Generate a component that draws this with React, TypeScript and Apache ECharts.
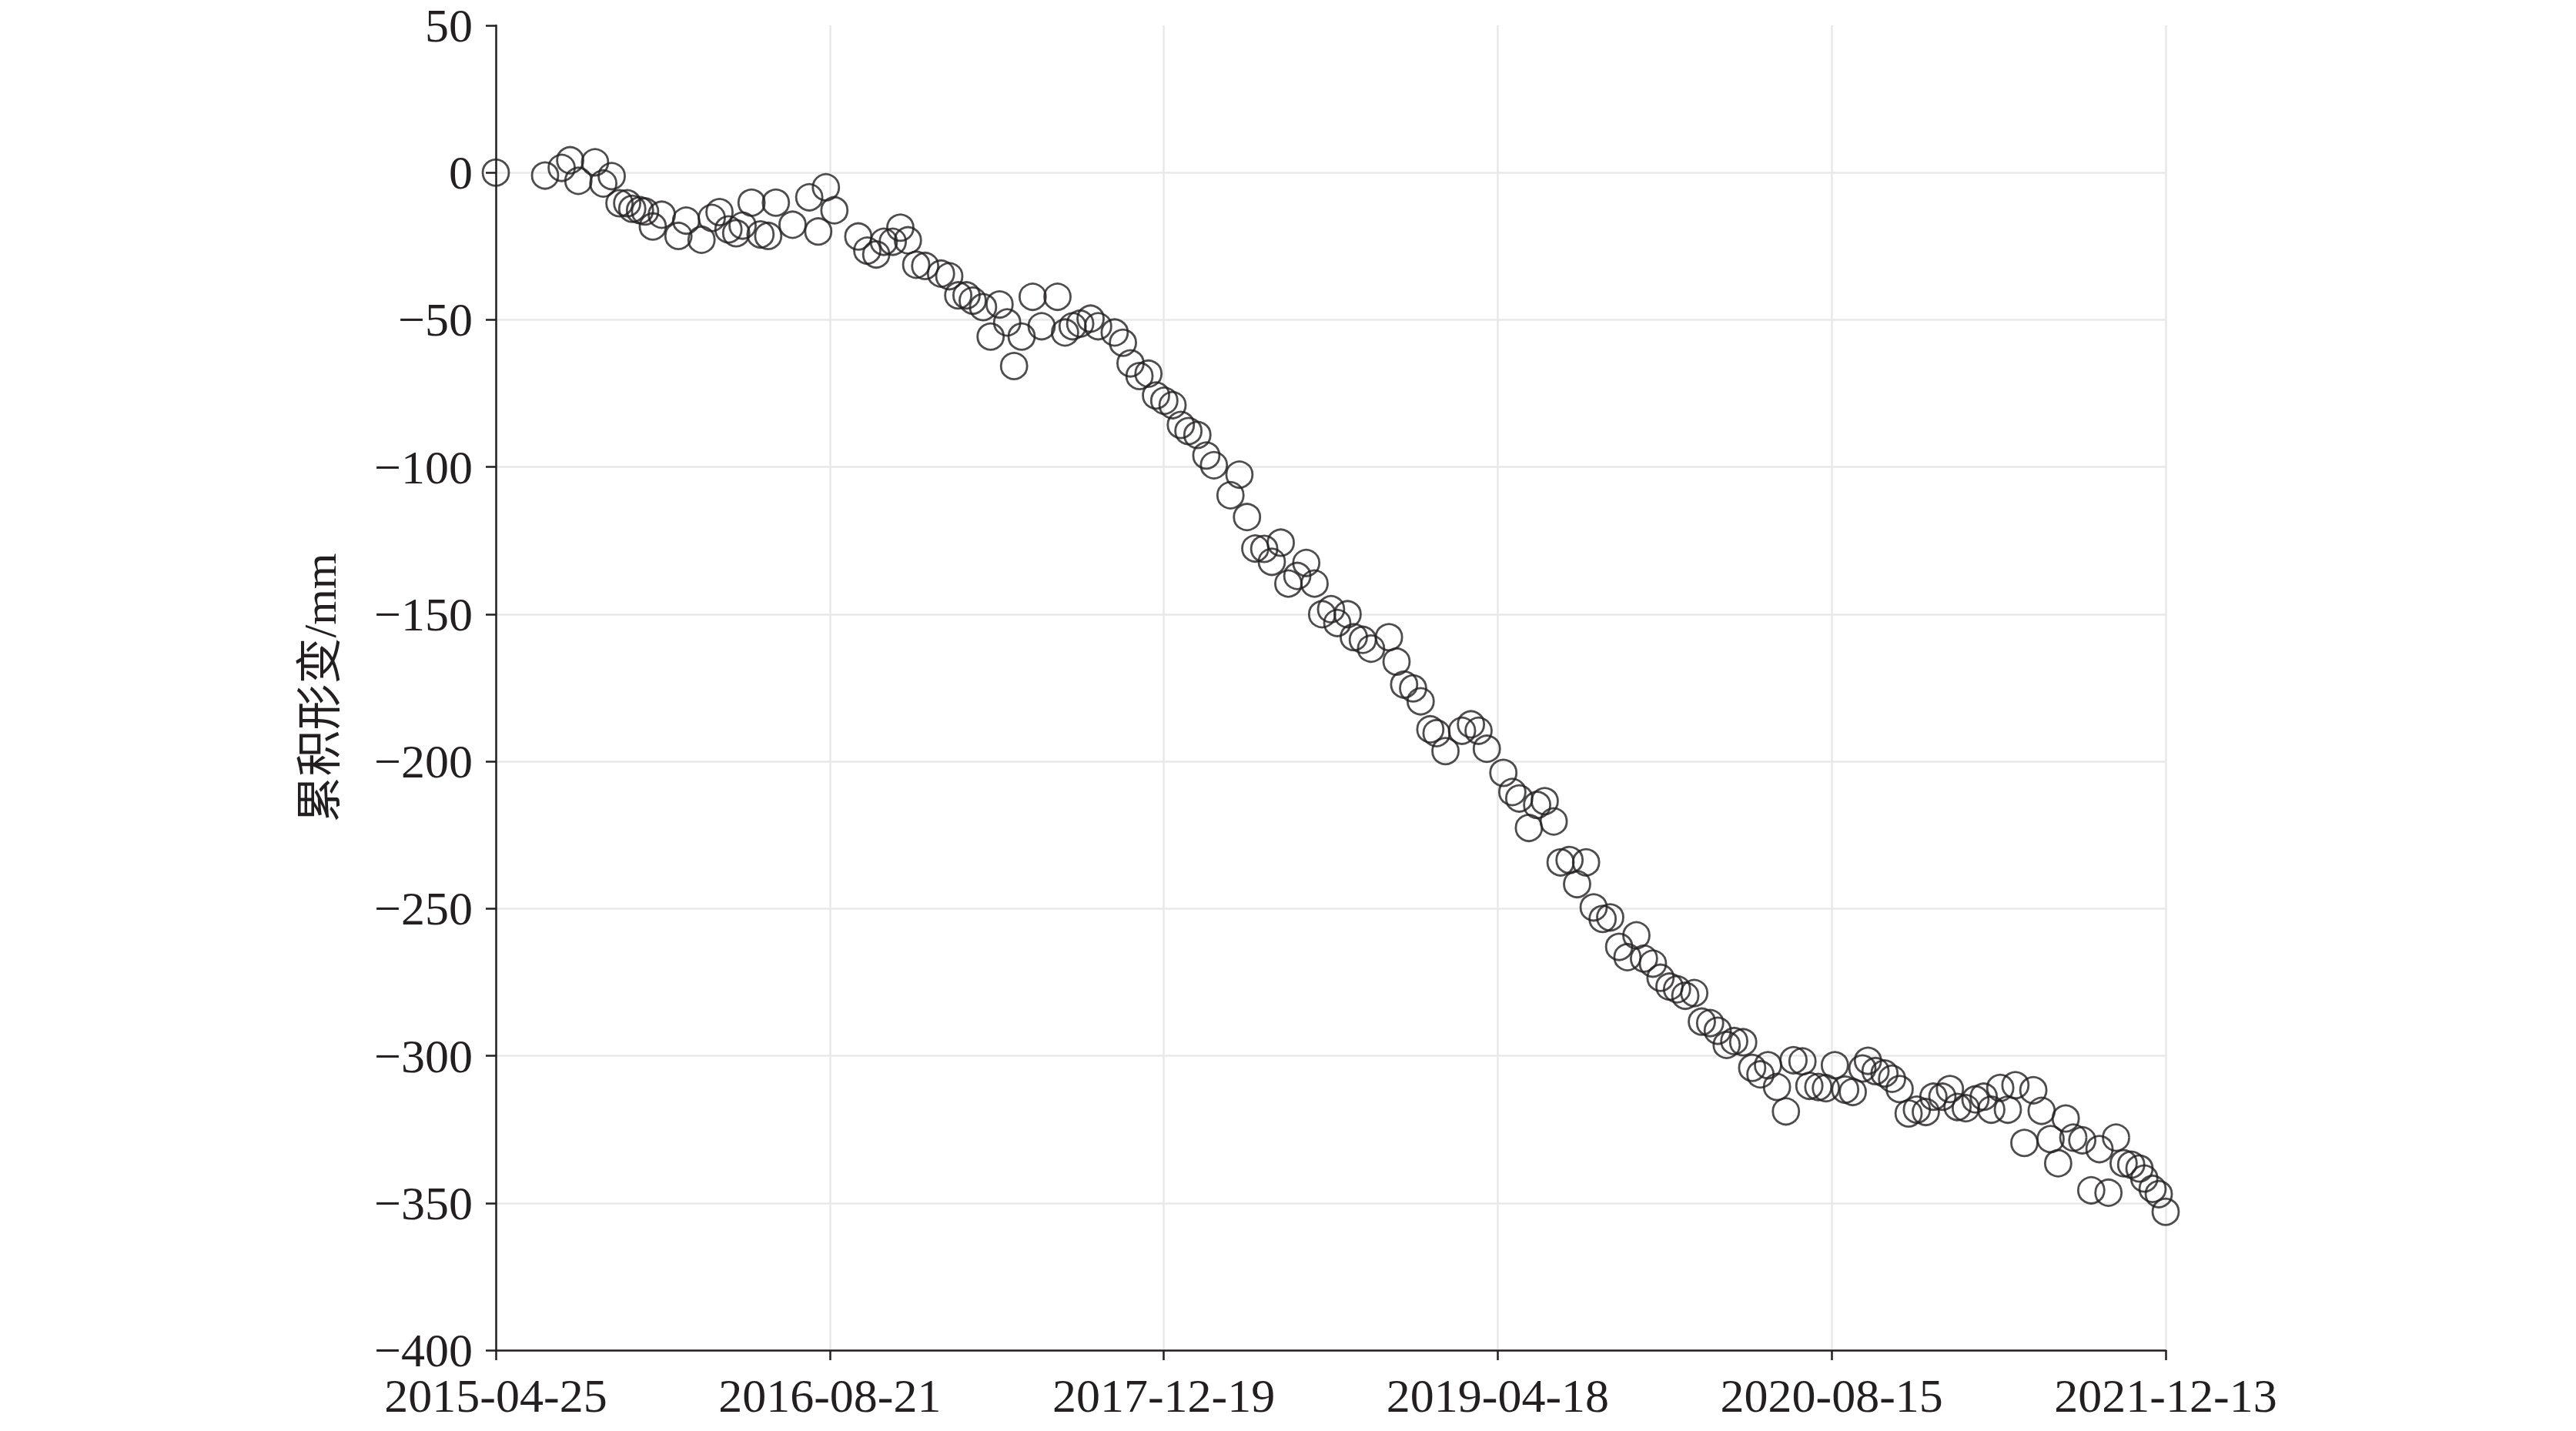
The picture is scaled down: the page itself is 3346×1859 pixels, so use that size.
import React, { useEffect, useRef } from 'react';
import * as echarts from 'echarts';

// Days since 2015-04-25 for each acquisition
const dayOffsets = [
  0, 71.5, 95.6, 107.9, 119.8, 144, 156, 168.2, 179.4, 190.6, 198, 209.2, 216.6, 227.8, 240.8,
  265, 276.2, 298.5, 313.4, 324.6, 337.6, 348.8, 358.1, 371.1, 384.1, 395.3, 406.4, 430.6,
  454.8, 467.9, 479, 491.3, 526, 539, 552, 563, 576, 587, 598, 610, 623, 646, 658, 671, 683,
  692, 707, 718, 731, 742, 752, 763, 779, 792, 815, 826, 837, 848, 863, 874, 898, 910, 921,
  934, 947, 958, 970, 982, 994, 1005, 1018, 1031, 1042, 1066, 1079, 1090, 1102, 1115, 1126,
  1139, 1150, 1163, 1176, 1188, 1199, 1212, 1221, 1236, 1245, 1258, 1270, 1296, 1307, 1318,
  1331, 1342, 1356, 1365, 1378, 1402, 1415, 1426, 1438, 1462, 1475, 1485, 1499, 1511, 1522,
  1535, 1545, 1558, 1569, 1582, 1593, 1606, 1617, 1630, 1642, 1655, 1666, 1679, 1690, 1703,
  1714, 1726, 1739, 1750, 1762, 1773, 1786, 1797, 1810, 1823, 1835, 1846, 1859, 1872, 1883,
  1896, 1906, 1919, 1930, 1943, 1958, 1969, 1983, 1991, 2002, 2015, 2026, 2037, 2050, 2062,
  2075, 2086, 2099, 2110, 2121, 2133, 2147, 2159, 2170, 2183, 2194, 2205, 2218, 2231, 2243,
  2256, 2267, 2278, 2289, 2302, 2315, 2327, 2340, 2351, 2362, 2373, 2385, 2392, 2404, 2413,
  2423,
];

// Cumulative deformation (mm)
const deformation = [
  0, -1, 1.6, 4.2, -2.8, 3.5, -3.7, -1.2, -10.4, -10.4, -12.3, -12.8, -13.2, -18.3, -14.3,
  -21.5, -16.3, -22.8, -15.4, -13.4, -19.3, -20.6, -18, -10.2, -21, -21.5, -10.2, -17.7,
  -8.4, -20, -5, -12.8, -21.7, -26.5, -27.8, -23.5, -23.5, -18.7, -23, -31.3, -31.7, -34.3,
  -35.2, -41.7, -41.7, -43.5, -45.7, -55.7, -44.8, -50.9, -65.7, -55.7, -42.2, -52.2, -42.2,
  -54.3, -52.2, -51.3, -49.6, -52.2, -54.3, -57.8, -64.8, -69.1, -68.3, -75.7, -77.5, -79,
  -85.7, -87.8, -89.1, -96.1, -99.4, -109.6, -102.6, -117, -127.7, -127.8, -132.2, -125.7,
  -139.6, -137, -132.6, -139.6, -150, -148.3, -153, -150, -157.8, -158.7, -161.7, -157.8,
  -166.1, -173.9, -175.2, -179.6, -189.1, -190.4, -196.5, -189.6, -187.4, -189.6, -195.7,
  -203.9, -210.4, -212.6, -222.6, -214.8, -213.5, -220.4, -234.3, -233.5, -241.7, -234.3,
  -249.6, -253.5, -253, -263, -266.5, -259.1, -267, -268.7, -273.5, -276.5, -277.4, -279.6,
  -278.7, -288.4, -288.9, -291.5, -296.3, -295, -295.4, -304.1, -306.3, -303.2, -310.6,
  -318.9, -301.5, -301.9, -310.2, -310.6, -311, -303.2, -311.5, -312.3, -304.3, -301.7,
  -305.2, -306, -307.8, -311.3, -319.6, -318.3, -319.1, -313.9, -313.9, -311.3, -317.4,
  -317.8, -314.8, -313.9, -318.3, -310.9, -318.3, -310, -329.6, -311.7, -318.7, -328.3,
  -336.5, -321.3, -327.8, -328.7, -345.7, -331.7, -346.5, -327.8, -336.5, -337, -338.3,
  -341.7, -345.2, -347, -353,
];

const xTickLabels = ['2015-04-25', '2016-08-21', '2017-12-19', '2019-04-18', '2020-08-15', '2021-12-13'];
const xSpanDays = 2423;
const yAxisName = '累积形变/mm';

export default function App() {
  const ref = useRef<HTMLDivElement>(null);
  useEffect(() => {
    const chart = echarts.init(ref.current!, null, { renderer: 'svg' });
    const step = xSpanDays / (xTickLabels.length - 1);
    const textColor = '#231f20';
    const serif = "'Liberation Serif', 'Times New Roman', serif";
    chart.setOption({
      animation: false,
      backgroundColor: '#ffffff',
      grid: { left: 644, right: 533, top: 33, bottom: 105, containLabel: false },
      xAxis: {
        type: 'value',
        min: 0,
        max: xSpanDays,
        interval: step,
        axisLine: { show: true, onZero: false, lineStyle: { color: textColor, width: 2.5 } },
        axisTick: { show: true, inside: false, length: 13, lineStyle: { color: textColor, width: 2.5 } },
        axisLabel: {
          margin: 28,
          color: textColor,
          fontSize: 62,
          fontFamily: serif,
          formatter: (v: number) => xTickLabels[Math.round(v / step)] ?? '',
          showMinLabel: true,
          showMaxLabel: true,
        },
        splitLine: { show: true, lineStyle: { color: '#e8e8e8', width: 2.5 } },
      },
      yAxis: {
        type: 'value',
        min: -400,
        max: 50,
        interval: 50,
        name: yAxisName,
        nameLocation: 'middle',
        nameGap: 198,
        nameRotate: 90,
        nameTextStyle: {
          fontSize: 60,
          color: textColor,
          fontFamily: "'Liberation Serif', 'Noto Sans CJK SC', serif",
        },
        axisLine: { show: true, onZero: false, lineStyle: { color: textColor, width: 2.5 } },
        axisTick: { show: true, inside: false, length: 13, lineStyle: { color: textColor, width: 2.5 } },
        axisLabel: {
          margin: 30,
          color: textColor,
          fontSize: 62,
          fontFamily: serif,
          formatter: (v: number) => (v < 0 ? '\u2212' + Math.abs(v) : String(v)),
        },
        splitLine: { show: true, showMaxLine: false, lineStyle: { color: '#e8e8e8', width: 2.5 } },
      },
      series: [
        {
          type: 'scatter',
          data: dayOffsets.map((d, i) => [d, deformation[i]]),
          symbol: 'circle',
          symbolSize: 34,
          itemStyle: { color: 'rgba(0,0,0,0)', borderColor: '#231f20', borderWidth: 2.8 },
          emphasis: { disabled: true },
        },
      ],
    });
    return () => chart.dispose();
  }, []);
  return (
    <div
      ref={ref}
      style={{ position: 'fixed', left: 0, top: 0, width: 3346, height: 1859, background: '#fff' }}
    />
  );
}
